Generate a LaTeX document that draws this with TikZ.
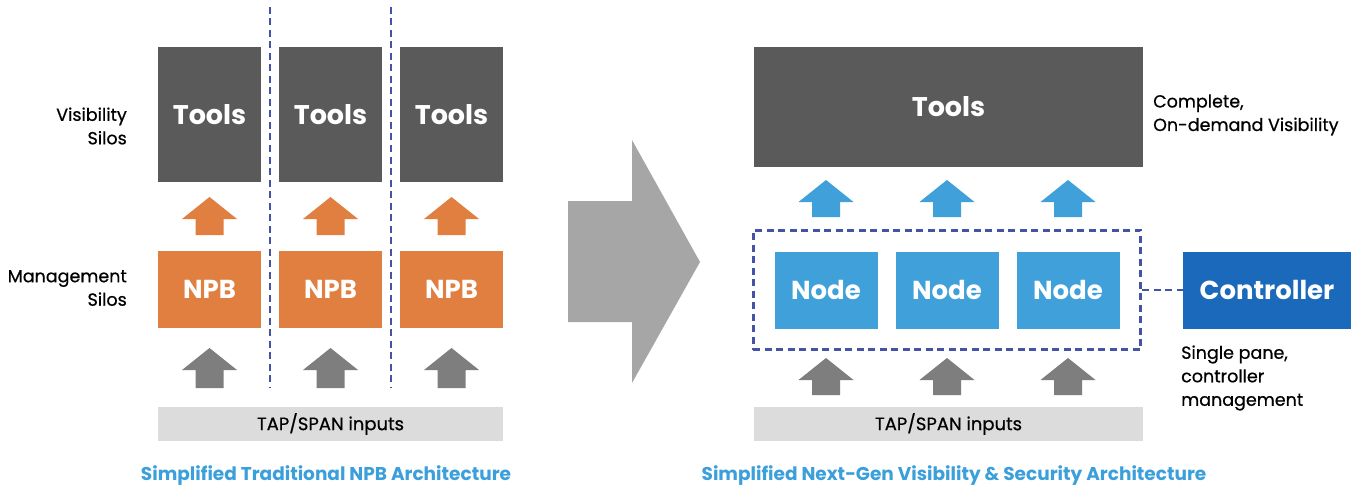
\documentclass[tikz,border=0pt]{standalone}
\usepackage{fontspec}
\setmainfont{Poppins}
\newfontfamily\labelfont{Poppins}[FakeBold=0.6]
\usepackage{tikz}
\usepackage{xcolor}
\usetikzlibrary {positioning,fit,calc}
\definecolor{ToolsBackground}{HTML}{5A5A5A}
\definecolor{NPBBackground}{HTML}{E07F3F}
\definecolor{NodeBackground}{HTML}{3FA0DA}
\definecolor{ControllerBackground}{HTML}{1B69BA}
\definecolor{InputBackground}{HTML}{DCDCDC}
\definecolor{FlowGray}{HTML}{7E7E7E}
\definecolor{BigArrowGray}{HTML}{A6A6A6}
\definecolor{DividerBlue}{HTML}{4353A6}
\definecolor{TitleBlue}{HTML}{3A9FDB}
\tikzstyle{BoxNode} =[inner sep=0,text=white,font=\bfseries\fontsize{26}{30}\selectfont]
\tikzstyle{ToolsBox} =[BoxNode,fill=ToolsBackground,minimum width=103pt,minimum height=135pt,font=\bfseries\fontsize{27}{30}\selectfont]
\tikzstyle{NPBBox} =[BoxNode,fill=NPBBackground,minimum width=103pt,minimum height=77pt]
\tikzstyle{NodeBox} =[BoxNode,fill=NodeBackground,minimum width=103pt,minimum height=77pt]
\tikzstyle{ControllerBox} =[BoxNode,fill=ControllerBackground,minimum width=168pt,minimum height=77pt]
\tikzstyle{InputBar} =[inner sep=0,fill=InputBackground,minimum height=34pt,font=\labelfont\fontsize{18}{20}\selectfont]
\tikzstyle{SideLabel} =[inner sep=0,font=\labelfont\fontsize{17.5}{23.5}\selectfont]
\tikzstyle{TitleLabel} =[inner sep=0,text=TitleBlue,font=\bfseries\fontsize{18.5}{22}\selectfont]
\tikzstyle{SiloDivider} =[draw=DividerBlue,line width=2.8pt,dash pattern=on 7pt off 4.5pt]
\tikzset{pics/UpBlock/.style={code={
    \fill (-14,0) -- (-14,#1-22) -- (-27.5,#1-22) -- (0,#1) -- (27.5,#1-22) -- (14,#1-22) -- (14,0) -- cycle;
}}}

\begin{document}
\begin{tikzpicture}[x=1pt,y=1pt,node distance=121pt,on grid]
    \useasboundingbox[fill=white] (0,0) rectangle (1357,-492);

    % traditional NPB side
    \node[ToolsBox](Tools-1) at (209.5,-114.5){Tools};
    \node[ToolsBox,right= of Tools-1](Tools-2){Tools};
    \node[ToolsBox,right= of Tools-2](Tools-3){Tools};
    \node[NPBBox,below= 175pt of Tools-1](NPB-1){NPB};
    \node[NPBBox,right= of NPB-1](NPB-2){NPB};
    \node[NPBBox,right= of NPB-2](NPB-3){NPB};
    \node[InputBar,minimum width=345pt,below= 134.5pt of NPB-2](TAP-Left){TAP/SPAN inputs};

    \pic[fill=NPBBackground] (Orange-Arrow-1) at (209.5,-235) {UpBlock=38};
    \pic[fill=NPBBackground] (Orange-Arrow-2) at (330.5,-235) {UpBlock=38};
    \pic[fill=NPBBackground] (Orange-Arrow-3) at (451.5,-235) {UpBlock=38};
    \pic[fill=FlowGray] (Gray-Arrow-1) at (209.5,-388) {UpBlock=40};
    \pic[fill=FlowGray] (Gray-Arrow-2) at (330.5,-388) {UpBlock=40};
    \pic[fill=FlowGray] (Gray-Arrow-3) at (451.5,-388) {UpBlock=40};

    \coordinate (Divider-1-Top) at (270,-7);
    \coordinate (Divider-1-Bottom) at (270,-388);
    \coordinate (Divider-2-Top) at (391,-7);
    \coordinate (Divider-2-Bottom) at (391,-388);
    \draw[SiloDivider] (Divider-1-Top) -- (Divider-1-Bottom);
    \draw[SiloDivider] (Divider-2-Top) -- (Divider-2-Bottom);

    \node[SideLabel,anchor=east,align=right](Visibility-Silos) at (127,-126){Visibility\\Silos};
    \node[SideLabel,anchor=east,align=right](Management-Silos) at (127,-288){Management\\Silos};
    \node[TitleLabel](Title-Left) at (326,-476){Simplified Traditional NPB Architecture};

    % transition arrow
    \fill[BigArrowGray] (568,-201) -- (632,-201) -- (632,-140) -- (700,-262)
        -- (632,-383) -- (632,-322) -- (568,-322) -- cycle;

    % next-gen side
    \node[ToolsBox,minimum width=389pt,minimum height=120pt](Tools-All) at (948.5,-107){Tools};
    \node[NodeBox](Node-1) at (826,-290){Node};
    \node[NodeBox,right= of Node-1](Node-2){Node};
    \node[NodeBox,right= of Node-2](Node-3){Node};
    \node[SiloDivider,inner sep=21pt,fit=(Node-1)(Node-2)(Node-3)](Node-Group){};
    \node[ControllerBox](Controller) at (1267,-290){Controller};
    \draw[SiloDivider] (Node-Group.east) -- (Controller.west);
    \node[InputBar,minimum width=389pt](TAP-Right) at (948.5,-424){TAP/SPAN inputs};

    \pic[fill=NodeBackground] (Blue-Arrow-1) at (826,-217) {UpBlock=37};
    \pic[fill=NodeBackground] (Blue-Arrow-2) at (947,-217) {UpBlock=37};
    \pic[fill=NodeBackground] (Blue-Arrow-3) at (1068,-217) {UpBlock=37};
    \pic[fill=FlowGray] (Gray-Arrow-4) at (826,-395) {UpBlock=37};
    \pic[fill=FlowGray] (Gray-Arrow-5) at (947,-395) {UpBlock=37};
    \pic[fill=FlowGray] (Gray-Arrow-6) at (1068,-395) {UpBlock=37};

    \node[SideLabel,anchor=west,align=left](Complete-Visibility) at (1153,-115){Complete,\\On-demand Visibility};
    \node[SideLabel,anchor=west,align=left](Single-Pane) at (1181,-378){Single pane,\\controller\\management};
    \node[TitleLabel](Title-Right) at (954,-476){Simplified Next-Gen Visibility \& Security Architecture};
\end{tikzpicture}
\end{document}
